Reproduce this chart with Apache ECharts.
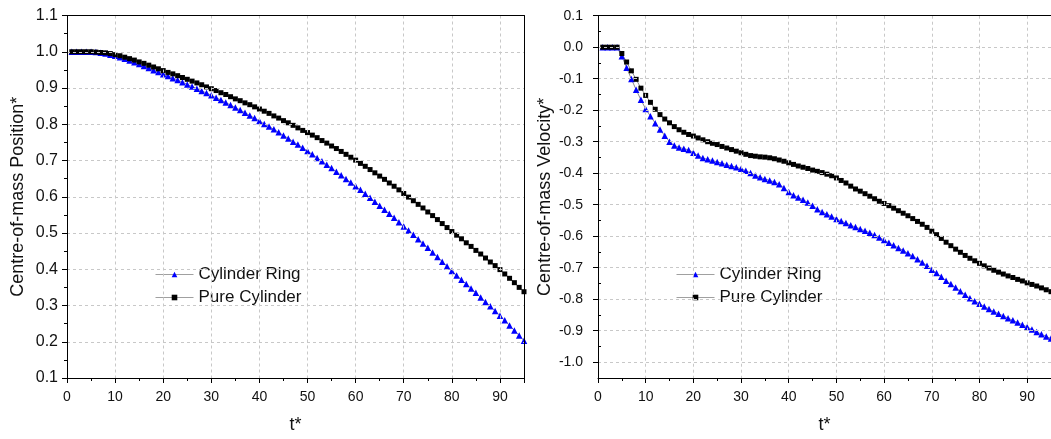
<!DOCTYPE html>
<html><head><meta charset="utf-8">
<script src="https://cdn.jsdelivr.net/npm/echarts@6/dist/echarts.min.js"></script>
<style>html,body{margin:0;padding:0;background:#fff}#c{width:1051px;height:439px}</style>
</head><body><div id="c"></div>
<script>
// time steps t*
const tValues = [1,2,3,4,5,6,7,8,9,10,11,12,13,14,15,16,17,18,19,20,21,22,23,24,25,26,27,28,29,30,
31,32,33,34,35,36,37,38,39,40,41,42,43,44,45,46,47,48,49,50,51,52,53,54,55,56,57,58,59,60,
61,62,63,64,65,66,67,68,69,70,71,72,73,74,75,76,77,78,79,80,81,82,83,84,85,86,87,88,89,90,91,92,93,94,95];

const seriesNames = ['Cylinder Ring', 'Pure Cylinder'];

// Centre-of-mass Position*
const posRing = [1.000,1.000,1.000,1.000,1.000,0.999,0.997,0.995,0.992,0.989,
0.985,0.981,0.976,0.971,0.966,0.961,0.955,0.949,0.944,0.938,
0.933,0.927,0.922,0.916,0.910,0.904,0.898,0.892,0.886,0.880,
0.873,0.867,0.860,0.853,0.846,0.839,0.832,0.824,0.817,0.809,
0.801,0.794,0.786,0.778,0.769,0.761,0.752,0.744,0.735,0.726,
0.717,0.707,0.698,0.688,0.679,0.669,0.659,0.649,0.639,0.629,
0.619,0.608,0.597,0.586,0.575,0.564,0.553,0.542,0.530,0.518,
0.507,0.495,0.483,0.471,0.459,0.446,0.434,0.421,0.408,0.395,
0.383,0.371,0.359,0.347,0.335,0.322,0.310,0.298,0.285,0.272,
0.259,0.245,0.231,0.217,0.203];

const posPure = [1.000,1.000,1.000,1.000,1.000,0.999,0.998,0.997,0.995,0.992,
0.989,0.985,0.981,0.977,0.972,0.968,0.963,0.958,0.953,0.948,
0.943,0.939,0.934,0.929,0.924,0.919,0.914,0.909,0.903,0.898,
0.893,0.887,0.882,0.876,0.870,0.865,0.859,0.854,0.848,0.842,
0.836,0.830,0.823,0.817,0.810,0.804,0.797,0.790,0.783,0.777,
0.770,0.763,0.755,0.748,0.740,0.733,0.725,0.717,0.709,0.701,
0.692,0.684,0.675,0.666,0.657,0.648,0.638,0.629,0.619,0.609,
0.599,0.589,0.579,0.569,0.558,0.548,0.537,0.526,0.515,0.504,
0.494,0.484,0.473,0.463,0.452,0.442,0.431,0.420,0.410,0.399,
0.387,0.375,0.363,0.350,0.338];

// Centre-of-mass Velocity*
const velRing = [0,0,0,0,-0.029,-0.065,-0.101,-0.135,-0.167,-0.196,
-0.219,-0.241,-0.261,-0.281,-0.300,-0.312,-0.318,-0.322,-0.326,-0.335,
-0.344,-0.352,-0.356,-0.360,-0.364,-0.368,-0.373,-0.377,-0.381,-0.386,
-0.392,-0.399,-0.407,-0.413,-0.418,-0.423,-0.428,-0.435,-0.447,-0.460,
-0.470,-0.477,-0.484,-0.493,-0.503,-0.514,-0.523,-0.530,-0.537,-0.545,
-0.552,-0.558,-0.565,-0.571,-0.577,-0.583,-0.589,-0.596,-0.604,-0.612,
-0.621,-0.629,-0.637,-0.645,-0.654,-0.663,-0.673,-0.683,-0.694,-0.706,
-0.717,-0.729,-0.741,-0.752,-0.763,-0.775,-0.786,-0.797,-0.806,-0.814,
-0.823,-0.831,-0.839,-0.846,-0.853,-0.860,-0.867,-0.874,-0.881,-0.888,
-0.896,-0.904,-0.911,-0.918,-0.925];

const velPure = [0,0,0,0,-0.020,-0.047,-0.075,-0.102,-0.130,-0.153,
-0.175,-0.197,-0.214,-0.228,-0.240,-0.252,-0.262,-0.270,-0.277,-0.282,
-0.288,-0.294,-0.300,-0.305,-0.309,-0.315,-0.320,-0.325,-0.330,-0.335,
-0.340,-0.344,-0.346,-0.348,-0.349,-0.351,-0.354,-0.358,-0.362,-0.367,
-0.372,-0.377,-0.381,-0.385,-0.390,-0.394,-0.398,-0.403,-0.408,-0.415,
-0.423,-0.431,-0.441,-0.450,-0.457,-0.465,-0.473,-0.481,-0.489,-0.496,
-0.503,-0.511,-0.519,-0.527,-0.535,-0.544,-0.553,-0.562,-0.572,-0.584,
-0.595,-0.607,-0.619,-0.630,-0.641,-0.651,-0.661,-0.670,-0.678,-0.686,
-0.694,-0.701,-0.708,-0.714,-0.720,-0.726,-0.731,-0.737,-0.742,-0.748,
-0.753,-0.758,-0.764,-0.770,-0.776];

// tick labels
const velTickValues = [-1.0,-0.9,-0.8,-0.7,-0.6,-0.5,-0.4,-0.3,-0.2,-0.1,0.0,0.1];
const velMinorTickValues = [-1.05,-0.95,-0.85,-0.75,-0.65,-0.55,-0.45,-0.35,-0.25,-0.15,-0.05,0.05];

const FONT = "'Liberation Sans', Arial, Helvetica, sans-serif";
const TXT = '#111';
const pair = ys => tValues.map((t, i) => [t, ys[i]]);
const fmt1 = v => (Math.abs(v) < 1e-9 ? 0 : v).toFixed(1);
const GRIDLINE = { show: true, lineStyle: { color: '#c8c8c8', type: [3, 3], width: 1 } };
const TICK = { show: true, inside: false, length: 5, lineStyle: { color: '#000', width: 1 } };
const MINOR = { show: true, splitNumber: 2, length: 3, lineStyle: { color: '#000', width: 1 } };

function xAxisCfg(gridIndex) {
  return {
    type: 'value', gridIndex: gridIndex, min: 0, max: 95, interval: 10,
    name: 't*', nameLocation: 'middle', nameGap: 38,
    nameTextStyle: { fontSize: 18, color: TXT, fontFamily: FONT },
    axisLine: { show: true, onZero: false, lineStyle: { color: '#000', width: 1 } },
    axisTick: TICK,
    minorTick: MINOR,
    splitLine: GRIDLINE,
    axisLabel: { fontSize: 14, color: TXT, fontFamily: FONT, margin: 12, showMaxLabel: false },
    z: 5
  };
}
function frameX(gridIndex) {
  return { type: 'value', gridIndex: gridIndex, position: 'top', min: 0, max: 95,
    axisLine: { show: true, onZero: false, lineStyle: { color: '#000', width: 1 } },
    axisTick: { show: false }, axisLabel: { show: false }, splitLine: { show: false }, z: 5 };
}
function frameY(gridIndex, mn, mx) {
  return { type: 'value', gridIndex: gridIndex, position: 'right', min: mn, max: mx,
    axisLine: { show: true, onZero: false, lineStyle: { color: '#000', width: 1 } },
    axisTick: { show: false }, axisLabel: { show: false }, splitLine: { show: false }, z: 5 };
}

const chart = echarts.init(document.getElementById('c'), null, { renderer: 'canvas' });

const lineStyle = { color: '#8a8a8a', width: 1 };
const legendCommon = {
  orient: 'vertical', itemWidth: 38, itemHeight: 7, itemGap: 4, selectedMode: false,
  data: seriesNames,
  lineStyle: { width: 1, color: '#a0a0a0' },
  textStyle: { fontSize: 17, color: TXT, fontFamily: FONT, lineHeight: 19 }
};

chart.setOption({
  animation: false,
  backgroundColor: '#fff',
  grid: [
    { left: 67, top: 15.5, width: 457, height: 368.5 },
    { left: 598, top: 15.7, width: 457, height: 368.6 }
  ],
  legend: [
    Object.assign({ left: 150, top: 260 }, legendCommon),
    Object.assign({ left: 671, top: 260 }, legendCommon)
  ],
  xAxis: [xAxisCfg(0), xAxisCfg(1), frameX(0), frameX(1)],
  yAxis: [
    {
      type: 'value', gridIndex: 0, min: 0.1, max: 1.1, interval: 0.1,
      name: 'Centre-of-mass Position*', nameLocation: 'middle', nameGap: 40,
      nameTextStyle: { fontSize: 18, color: TXT, fontFamily: FONT },
      axisLine: { show: true, onZero: false, lineStyle: { color: '#000', width: 1 } },
      axisTick: TICK, minorTick: MINOR, splitLine: GRIDLINE,
      axisLabel: { fontSize: 16, color: TXT, fontFamily: FONT, margin: 9, formatter: fmt1 },
      z: 5
    },
    {
      type: 'value', gridIndex: 1, min: -1.05, max: 0.1,
      name: 'Centre-of-mass Velocity*', nameLocation: 'middle', nameGap: 44,
      nameTextStyle: { fontSize: 18, color: TXT, fontFamily: FONT },
      axisLine: { show: true, onZero: false, lineStyle: { color: '#000', width: 1 } },
      axisTick: Object.assign({ customValues: velTickValues }, TICK),
      splitLine: GRIDLINE,
      axisLabel: { fontSize: 14, color: TXT, fontFamily: FONT, margin: 15, customValues: velTickValues, formatter: fmt1 },
      z: 5
    },
    {
      type: 'value', gridIndex: 1, min: -1.05, max: 0.1,
      axisLine: { show: false },
      axisTick: { show: true, inside: false, length: 3, customValues: velMinorTickValues, lineStyle: { color: '#000', width: 1 } },
      splitLine: { show: false },
      axisLabel: { show: false },
      z: 5
    },
    frameY(0, 0.1, 1.1),
    frameY(1, -1.05, 0.1)
  ],
  series: [
    { name: seriesNames[0], type: 'line', xAxisIndex: 0, yAxisIndex: 0, data: pair(posRing),
      symbol: 'triangle', symbolSize: 6.5, showAllSymbol: true, itemStyle: { color: '#0000ff' }, lineStyle: lineStyle },
    { name: seriesNames[1], type: 'line', xAxisIndex: 0, yAxisIndex: 0, data: pair(posPure),
      symbol: 'rect', symbolSize: 5, showAllSymbol: true, itemStyle: { color: '#000000' }, lineStyle: lineStyle },
    { name: seriesNames[0], type: 'line', xAxisIndex: 1, yAxisIndex: 1, data: pair(velRing),
      symbol: 'triangle', symbolSize: 6.5, showAllSymbol: true, itemStyle: { color: '#0000ff' }, lineStyle: lineStyle },
    { name: seriesNames[1], type: 'line', xAxisIndex: 1, yAxisIndex: 1, data: pair(velPure),
      symbol: 'rect', symbolSize: 5, showAllSymbol: true, itemStyle: { color: '#000000' }, lineStyle: lineStyle }
  ]
});
</script>
</body></html>
